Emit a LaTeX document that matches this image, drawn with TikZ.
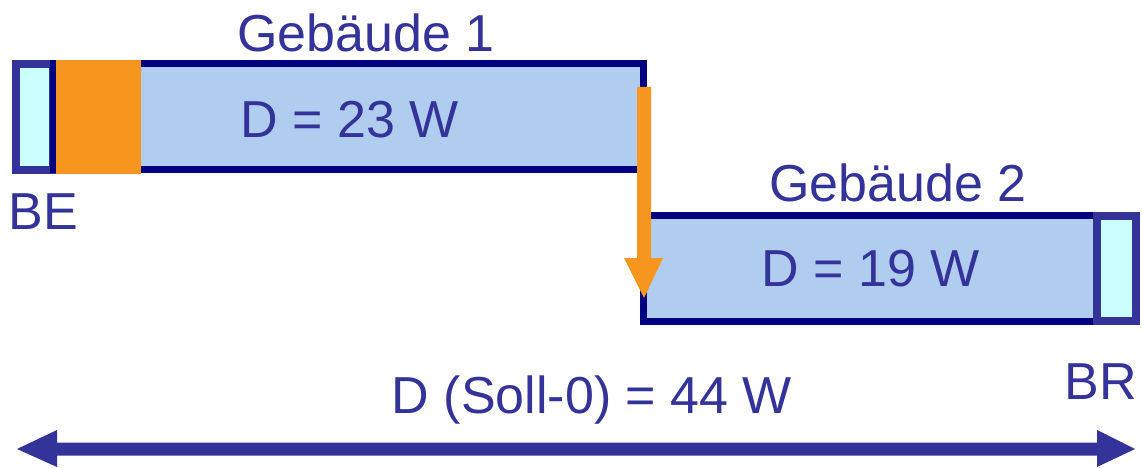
\documentclass[tikz,border=0pt]{standalone}
\usepackage{fontspec}
\setmainfont{Liberation Sans}
\definecolor{txt}{RGB}{51,51,153}
\definecolor{navy}{RGB}{0,0,128}
\definecolor{boxfill}{RGB}{176,204,238}
\definecolor{cyanfill}{RGB}{204,255,255}
\definecolor{orng}{RGB}{247,150,30}
\tikzset{
  lbl/.style={text=txt, font=\fontsize{52}{60}\selectfont, inner sep=0pt, anchor=base},
  bldg/.style={draw=navy, fill=boxfill, line width=7pt},
  endbox/.style={draw=txt, fill=cyanfill, line width=8pt},
  orangeblock/.style={fill=orng, draw=none},
}
\begin{document}
\begin{tikzpicture}[x=1pt,y=-1pt]
\useasboundingbox (0,0) rectangle (1142,468);
% BE end box
\path[endbox] (16,64) rectangle (53,170);
% building 1
\path[bldg] (53.5,63.5) rectangle (643.5,169.5);
\path[orangeblock] (56,60) rectangle (141,174);
% building 2
\path[bldg] (643.5,215.5) rectangle (1097,321.5);
% BR end box
\path[endbox] (1097,216) rectangle (1136,321);
% orange arrow
\fill[orng] (637,87) -- (651,87) -- (651,258) -- (663,258) -- (644,298) -- (624,258) -- (637,258) -- cycle;
% bottom double arrow
\fill[txt] (17,449) -- (57,430) -- (57,442.5) -- (1097,442.5) -- (1097,430) -- (1135,449) -- (1097,467) -- (1097,455.5) -- (57,455.5) -- (57,467) -- cycle;
% labels
\node[lbl] (g1) at (366,52) {Gebäude 1};
\node[lbl] (d1) at (350,137) {D = 23 W};
\node[lbl] (be) at (43,229) {BE};
\node[lbl] (g2) at (898,201) {Gebäude 2};
\node[lbl] (d2) at (871,286) {D = 19 W};
\node[lbl] (br) at (1101,399) {BR};
\node[lbl] (tot) at (592,413) {D (Soll-0) = 44 W};
\end{tikzpicture}
\end{document}
